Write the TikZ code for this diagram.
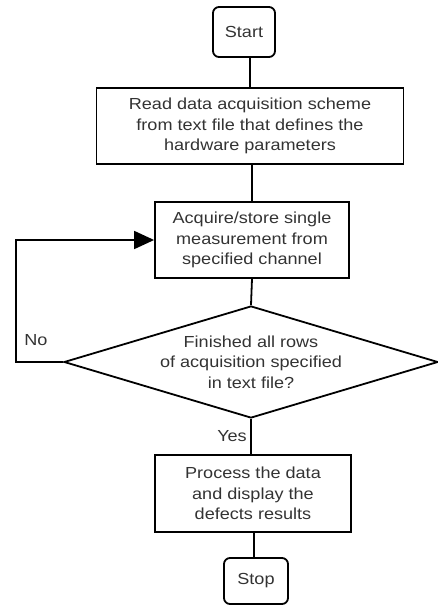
\documentclass[tikz,border=0pt]{standalone}
\usepackage{fontspec}
\setmainfont[FakeStretch=1.13]{Liberation Sans}
\usetikzlibrary{arrows.meta,shapes.geometric}
\definecolor{txt}{HTML}{333333}
\begin{document}
\begin{tikzpicture}[x=1pt,y=1pt,
  every node/.style={font=\fontsize{16}{20.3}\selectfont, text=txt, align=center},
  box/.style={draw=black, line width=1.8pt, inner sep=0pt},
  term/.style={box, rounded corners=6pt},
  conn/.style={draw=black, line width=1.8pt},
  lbl/.style={inner sep=0pt}]
\useasboundingbox (0,0) rectangle (438,-606);
\node[term, minimum width=62pt, minimum height=50pt] (start) at (244,-32) {Start};
\node[box, minimum width=307pt, minimum height=76pt] (read) at (250,-126) {Read data acquisition scheme\\from text file that defines the\\hardware parameters};
\node[box, minimum width=194pt, minimum height=76pt] (acq) at (252,-240) {Acquire/store single\\measurement from\\specified channel};
\node[diamond, draw=black, line width=1.8pt, inner sep=0pt, aspect=3.3, minimum width=374pt, minimum height=112pt] (dec) at (251,-362) {Finished all rows\\of acquisition specified\\in text file?};
\node[box, minimum width=196pt, minimum height=77pt] (proc) at (253,-493.5) {Process the data\\and display the\\defects results};
\node[term, minimum width=64pt, minimum height=46pt] (stop) at (256,-581) {Stop};
\coordinate (lc) at (16,-362);
\draw[conn] (start.south -| read.north) -- (read.north);
\draw[conn] (read.south -| acq.north) -- (acq.north);
\draw[conn] (acq.south) -- (dec.north);
\draw[conn] (dec.south) -- (dec.south |- proc.north);
\draw[conn] (proc.south -| 254,0) -- (stop.north -| 254,0);
\draw[conn, -{Triangle[length=20pt,width=18pt]}] (dec.west) -- (lc) |- (acq.west);
\node[lbl] (no) at (36,-340) {No};
\node[lbl] (yes) at (232,-436) {Yes};
\end{tikzpicture}
\end{document}
